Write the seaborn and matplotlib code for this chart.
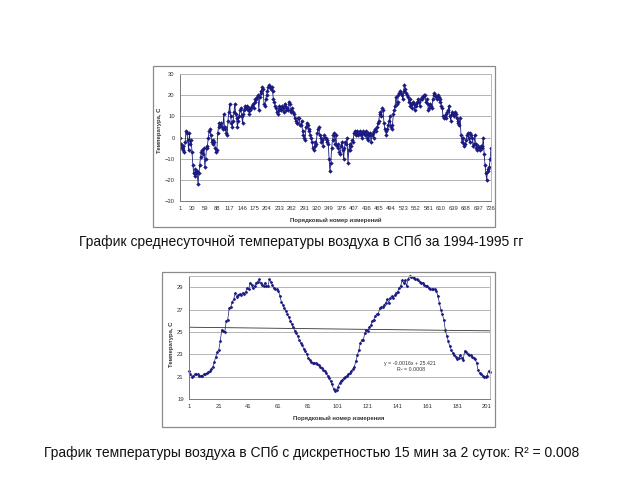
import numpy as np
import pandas as pd
import matplotlib
matplotlib.use("Agg")
import matplotlib.pyplot as plt
import seaborn as sns
from matplotlib.patches import Rectangle

# ---------------- data: daily mean temperature 1994-1995 (every 2nd day) ----------------
daily_temp = [
    0, -3, -5, -4, -6, -7, -2, 3, 2, -1, -6, 2, -3, -1, -7,
    -13, -17, -18, -15, -17, -16, -22, -17, -13, -9, -7, -6, -8, -5, -14,
    -10, -5, -4, 0, 3, 4, 1, -2, -1, -3, -2, -5, -7, -6, 2,
    5, 7, 6, 7, 5, 4, 11, 4, 5, 2, 1, 8, 12, 16, 10,
    7, 5, 8, 12, 16, 11, 9, 5, 8, 10, 13, 14, 10, 7, 11,
    13, 15, 14, 15, 13, 14, 11, 13, 14, 15, 16, 14, 17, 18, 18,
    19, 20, 13, 19, 21, 22, 24, 23, 16, 15, 18, 20, 22, 24, 25,
    24, 23, 24, 22, 18, 17, 15, 14, 12, 11, 13, 15, 14, 13, 15,
    14, 12, 16, 15, 13, 14, 13, 17, 16, 12, 13, 14, 12, 11, 9,
    8, 7, 7, 9, 9, 6, 6, 8, 3, 1, 0, -1, 5, 7, 6,
    4, 3, 1, 0, -2, -5, -6, -4, -2, -3, 2, 4, 5, 1, 0,
    -2, -1, -4, 1, 0, 0, -2, -1, -3, -10, -16, -12, -5, -1, 1,
    2, -3, 1, -4, -3, -5, -7, -8, -4, -2, -6, -10, -5, -2, -3,
    0, -12, -6, -3, -6, -4, -1, -2, 2, 3, 2, 1, 3, 1, 2,
    3, 1, 2, 0, 3, 2, 1, 3, 0, 2, -1, 1, 2, -2, 1,
    2, 0, 3, 4, 3, 5, 7, 8, 11, 12, 10, 14, 13, 7, 4,
    3, 1, 4, 6, 8, 10, 5, 4, 6, 11, 13, 15, 19, 16, 17,
    20, 21, 22, 21, 20, 18, 22, 25, 23, 21, 20, 19, 17, 18, 15,
    16, 14, 17, 16, 13, 15, 16, 17, 18, 17, 15, 18, 19, 18, 19,
    20, 20, 17, 18, 16, 13, 14, 16, 15, 14, 18, 20, 21, 20, 19,
    18, 20, 19, 17, 18, 15, 14, 10, 9, 10, 9, 11, 12, 13, 15,
    10, 8, 11, 12, 11, 10, 12, 11, 9, 8, 7, 6, 9, 1, -2,
    0, -3, -4, -3, -1, 1, 2, 0, -2, 2, 1, 0, -4, -3, 1,
    -3, -5, -6, -4, -5, -6, -4, -5, -4, 0, -8, -13, -17, -20, -15, -16, -14, -10, -5,
]
daily_index = list(range(1, 2 * len(daily_temp), 2))
top_xticks = [1, 30, 59, 88, 117, 146, 175, 204, 233, 262, 291, 320, 349, 378, 407,
              436, 465, 494, 523, 552, 581, 610, 639, 668, 697, 726]
top_yticks = [-30, -20, -10, 0, 10, 20, 30]

# ---------------- data: 15-min temperature over 2 days ----------------
q_temp = [
    21.5, 21.2, 21.0, 21.1, 21.2, 21.2, 21.2, 21.1, 21.1, 21.1,
    21.2, 21.2, 21.3, 21.4, 21.5, 21.7, 21.9, 22.3, 22.8, 23.2,
    23.4, 24.2, 25.2, 25.1, 25.0, 26.0, 26.1, 27.1, 27.2, 27.7,
    27.9, 28.5, 28.1, 28.3, 28.4, 28.3, 28.5, 28.4, 28.6, 28.9,
    28.8, 29.4, 29.2, 28.9, 29.1, 29.4, 29.5, 29.7, 29.4, 29.2,
    29.1, 29.4, 29.1, 29.1, 29.7, 29.5, 29.2, 28.9, 28.8, 28.8,
    28.7, 28.2, 27.7, 27.4, 27.1, 26.9, 26.6, 26.3, 26.0, 25.7,
    25.4, 25.1, 24.9, 24.6, 24.3, 24.0, 23.8, 23.5, 23.3, 23.0,
    22.7, 22.5, 22.3, 22.2, 22.2, 22.2, 22.1, 22.0, 21.9, 21.8,
    21.6, 21.5, 21.3, 21.1, 20.9, 20.6, 20.3, 19.9, 19.7, 19.8,
    20.1, 20.4, 20.6, 20.7, 20.9, 21.0, 21.1, 21.2, 21.3, 21.5,
    21.7, 21.9, 22.4, 22.9, 23.4, 24.0, 24.3, 24.3, 24.9, 25.2,
    25.1, 25.4, 25.6, 26.0, 26.1, 26.4, 26.6, 26.6, 27.1, 27.2,
    27.2, 27.4, 27.6, 27.9, 27.6, 28.0, 28.2, 28.0, 28.3, 28.5,
    28.6, 28.9, 29.1, 29.6, 29.4, 29.6, 29.1, 29.7, 30.0, 29.9,
    29.9, 29.8, 29.7, 29.7, 29.6, 29.5, 29.4, 29.4, 29.2, 29.1,
    29.1, 28.9, 28.8, 28.8, 28.8, 28.8, 28.7, 28.2, 27.6, 27.0,
    26.6, 26.1, 25.2, 24.6, 24.2, 23.7, 23.4, 23.1, 22.9, 22.8,
    22.6, 22.7, 22.9, 22.7, 22.5, 23.3, 23.2, 23.0, 22.9, 22.9,
    22.8, 22.7, 22.6, 22.2, 21.6, 21.3, 21.2, 21.1, 21.0, 21.0,
    21.1, 21.5, 21.4,
]
q_index = list(range(1, len(q_temp) + 1))
bot_xticks = [1, 21, 41, 61, 81, 101, 121, 141, 161, 181, 201]
bot_yticks = [19, 21, 23, 25, 27, 29]
trend_slope = -0.0016
trend_intercept = 25.421
trend_label = "y = -0.0016x + 25.421"
r2_label = "R\u00b2 = 0.0008"

caption_top = "График среднесуточной температуры воздуха в СПб за 1994-1995 гг"
caption_bot = "График температуры воздуха в СПб с дискретностью 15 мин за 2 суток: R\u00b2 = 0.008"
ylabel = "Температура, С"
xlabel_top = "Порядковый номер измерений"
xlabel_bot = "Порядковый номер измерения"

# ---------------- styling ----------------
sns.set_style("white")
plt.rcParams["font.family"] = ["Liberation Sans", "DejaVu Sans"]

W, H = 640, 480
fig = plt.figure(figsize=(W / 100, H / 100), dpi=100)
fig.patch.set_facecolor("white")

NAVY = "#1a1a80"


def px_axes(l, t, r, b):
    return fig.add_axes([l / W, 1 - b / H, (r - l) / W, (b - t) / H])


def chart_box(l, t, r, b):
    fig.add_artist(Rectangle((l / W, 1 - b / H), (r - l) / W, (b - t) / H,
                             transform=fig.transFigure, fill=False,
                             edgecolor="#8a8a8a", lw=0.9))


def style_axes(ax, xticks, yticks, xlab, ylab, xlab_pos, ylab_pos, minor):
    ax.set_xticks(xticks)
    ax.set_yticks(yticks)
    ax.set_xticks(minor, minor=True)
    ax.yaxis.grid(True, color="#a8a8a8", lw=0.6)
    ax.xaxis.grid(False)
    ax.set_axisbelow(True)
    for s in ["left", "bottom"]:
        ax.spines[s].set_color("#7a7a7a")
        ax.spines[s].set_linewidth(0.7)
    for s in ["top", "right"]:
        ax.spines[s].set_color("#b8b8b8")
        ax.spines[s].set_linewidth(0.7)
    ax.tick_params(axis="both", which="both", direction="out", length=2, width=0.5,
                   color="#7a7a7a", labelsize=4.2, labelcolor="#333333", pad=1.8)
    ax.tick_params(axis="x", which="minor", length=1.5)
    ax.set_xlabel(xlab, fontsize=4.3, fontweight="bold", color="#333333", va="center")
    ax.set_ylabel(ylab, fontsize=4.3, fontweight="bold", color="#333333",
                  va="center", ha="center")
    ax.xaxis.set_label_coords(*xlab_pos)
    ax.yaxis.set_label_coords(*ylab_pos)


# ---------------- top chart ----------------
chart_box(153, 66, 495, 227)
ax1 = px_axes(180, 74, 491, 201)
sns.lineplot(x=daily_index, y=daily_temp, ax=ax1, color=NAVY, lw=0.6,
             marker="D", markersize=1.9, markeredgewidth=0.3,
             markeredgecolor=NAVY, markerfacecolor=NAVY)
ax1.set_xlim(1, 727)
ax1.set_ylim(-30, 30)
style_axes(ax1, top_xticks, top_yticks, xlabel_top, ylabel,
           ((335.5 - 180) / 311, (201 - 220) / 127),
           ((160 - 180) / 311, (201 - 130) / 127),
           np.arange(1, 727, 7.25))

# ---------------- bottom chart ----------------
chart_box(162, 272, 495, 427)
ax2 = px_axes(189, 276, 490, 399)
sns.lineplot(x=q_index, y=q_temp, ax=ax2, color=NAVY, lw=0.5,
             marker="D", markersize=1.5, markeredgewidth=0.3,
             markeredgecolor=NAVY, markerfacecolor=NAVY)
ax2.lines[0].set_clip_on(False)
trend_x = np.array([q_index[0], q_index[-1]])
ax2.plot(trend_x, trend_slope * trend_x + trend_intercept, color="#333333", lw=0.6)
ax2.set_xlim(1, 203)
ax2.set_ylim(19, 30)
style_axes(ax2, bot_xticks, bot_yticks, xlabel_bot, ylabel,
           ((339 - 189) / 301, (399 - 418) / 123),
           ((171 - 189) / 301, (399 - 344) / 123),
           np.arange(1, 203, 5))

fig.text(410 / W, 1 - 363 / H, trend_label, fontsize=3.8, color="#333333",
         ha="center", va="center")
fig.text(411 / W, 1 - 369.5 / H, r2_label, fontsize=3.8, color="#333333",
         ha="center", va="center")

# ---------------- captions ----------------
fig.text(301.5 / W, 1 - 242 / H, caption_top, fontsize=10, color="#111111",
         ha="center", va="center")
fig.text(312 / W, 1 - 453 / H, caption_bot, fontsize=10, color="#111111",
         ha="center", va="center")

fig.savefig("out.png", dpi=100, facecolor="white")
